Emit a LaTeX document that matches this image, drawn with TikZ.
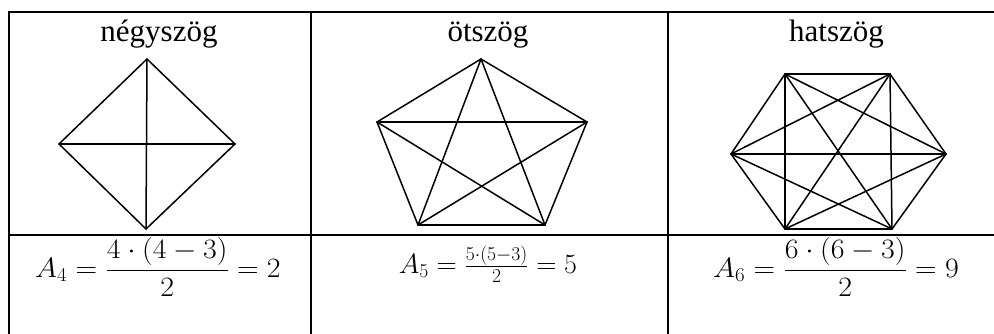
\RequirePackage{fix-cm}
\documentclass[tikz,border=0pt]{standalone}
\usepackage{fontspec}
\setmainfont{Liberation Serif}
\begin{document}
\begin{tikzpicture}[x=1pt,y=-1pt,
  gridline/.style={line width=2pt},
  poly/.style={line width=1.5pt, line join=round, line cap=round},
  lbl/.style={font=\fontsize{31}{36}\selectfont, anchor=base, inner sep=0pt},
  eq/.style={font=\fontsize{28}{34}\selectfont, anchor=base, inner sep=0pt}]
\useasboundingbox (0,0) rectangle (994,334);
% table lines
\draw[gridline] (9,334) -- (9,12.5) -- (994,12.5);
\draw[gridline] (9,234.5) -- (994,234.5);
\draw[gridline] (311,12.5) -- (311,334);
\draw[gridline] (667.5,12.5) -- (667.5,334);
% headings
\node[lbl] (t4) at (159,42) {négyszög};
\node[lbl] (t5) at (488,42) {ötszög};
\node[lbl] (t6) at (836.5,42) {hatszög};
% square
\coordinate (Q1) at (147,59);
\coordinate (Q2) at (235,144);
\coordinate (Q3) at (146,229);
\coordinate (Q4) at (59,144);
\draw[poly] (Q1) -- (Q2) -- (Q3) -- (Q4) -- cycle;
\draw[poly] (Q1) -- (Q3);
\draw[poly] (Q2) -- (Q4);
% pentagon
\coordinate (P1) at (481,59);
\coordinate (P2) at (587,122);
\coordinate (P3) at (545,225);
\coordinate (P4) at (418,225);
\coordinate (P5) at (377,122);
\foreach \i in {1,...,4}{
  \pgfmathtruncatemacro{\s}{\i+1}
  \foreach \j in {\s,...,5}{ \draw[poly] (P\i) -- (P\j); }
}
% hexagon
\coordinate (H1) at (785,74);
\coordinate (H2) at (890,74);
\coordinate (H3) at (946,154);
\coordinate (H4) at (892,229);
\coordinate (H5) at (785,229);
\coordinate (H6) at (731,154);
\foreach \i in {1,...,5}{
  \pgfmathtruncatemacro{\s}{\i+1}
  \foreach \j in {\s,...,6}{ \draw[poly] (H\i) -- (H\j); }
}
% formulas
\node[eq] (f4) at (158,277) {\scalebox{1.07}[1]{$\displaystyle A_4=\frac{4\cdot(4-3)}{2}=2$}};
\node[eq] (f5) at (488,273) {$A_5=\frac{5\cdot(5-3)}{2}=5$};
\node[eq] (f6) at (836,277) {\scalebox{1.07}[1]{$\displaystyle A_6=\frac{6\cdot(6-3)}{2}=9$}};
\end{tikzpicture}
\end{document}
